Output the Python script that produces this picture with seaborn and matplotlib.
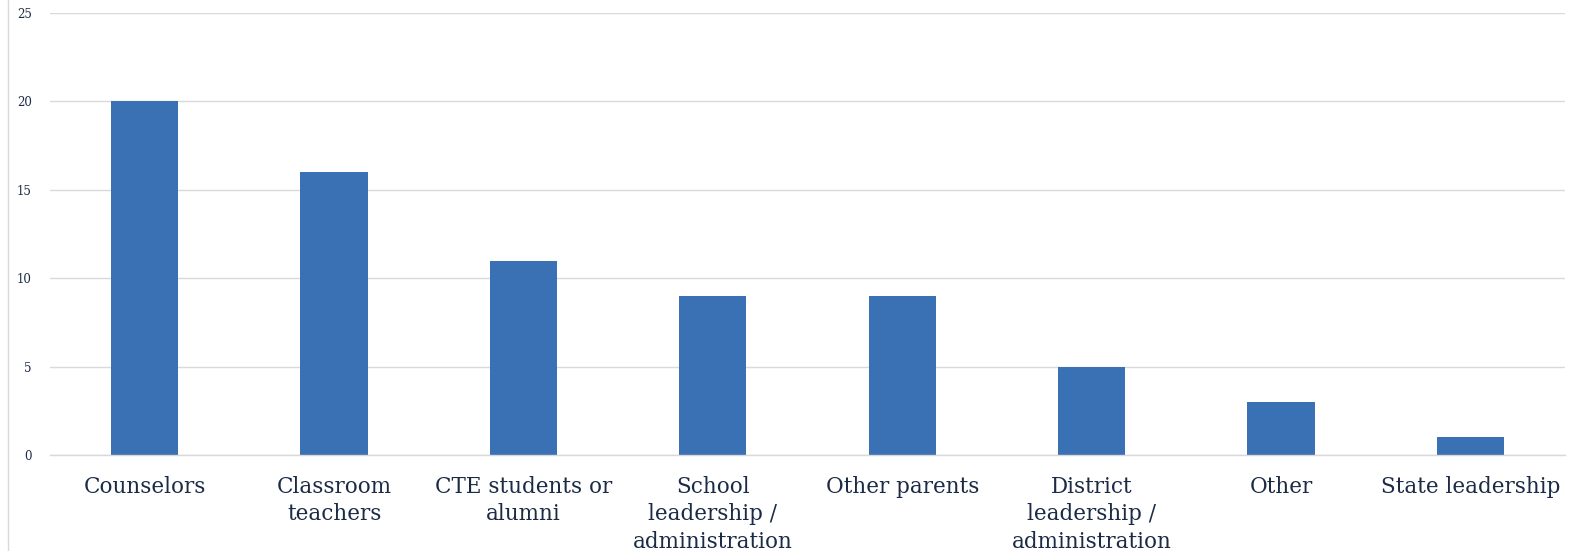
import matplotlib
matplotlib.use("Agg")
import matplotlib.pyplot as plt
import seaborn as sns
import pandas as pd
from matplotlib.lines import Line2D

categories = ["Counselors", "Classroom\nteachers", "CTE students or\nalumni",
              "School\nleadership /\nadministration", "Other parents",
              "District\nleadership /\nadministration", "Other", "State leadership"]
values = [20, 16, 11, 9, 9, 5, 3, 1]
yticks = [0, 5, 10, 15, 20, 25]

sns.set_theme(style="white")
plt.rcParams['font.family'] = ['DejaVu Serif']
text_color = "#1b2a45"

df = pd.DataFrame({"cat": categories, "val": values})
fig = plt.figure(figsize=(15.78, 5.51), dpi=100)
ax = fig.add_axes([50/1578, 96/551, (1565-50)/1578, (538-96)/551])
sns.barplot(data=df, x="cat", y="val", color="#3a70b4", width=0.355, ax=ax, saturation=1,
            linewidth=0)
ax.set_ylim(0, 25)
ax.set_yticks(yticks)
ax.yaxis.grid(True, color="#d9d9d9", linewidth=1)
ax.set_axisbelow(True)
for s in ax.spines.values():
    s.set_visible(False)
ax.spines["bottom"].set_visible(True)
ax.spines["bottom"].set_color("#d9d9d9")
ax.spines["bottom"].set_linewidth(1)
ax.set_xlabel("")
ax.set_ylabel("")
ax.tick_params(axis="y", labelsize=8.5, colors=text_color, length=0, pad=13)
ax.tick_params(axis="x", labelsize=15.5, colors=text_color, length=0, pad=15)
for lab in ax.get_xticklabels():
    lab.set_linespacing(1.32)
ax.set_xlim(-0.5, len(categories) - 0.5)
fig.add_artist(Line2D([8/1578, 8/1578], [0, 1], color="#d9d9d9", linewidth=1, transform=fig.transFigure))
fig.savefig("out.png", dpi=100)
